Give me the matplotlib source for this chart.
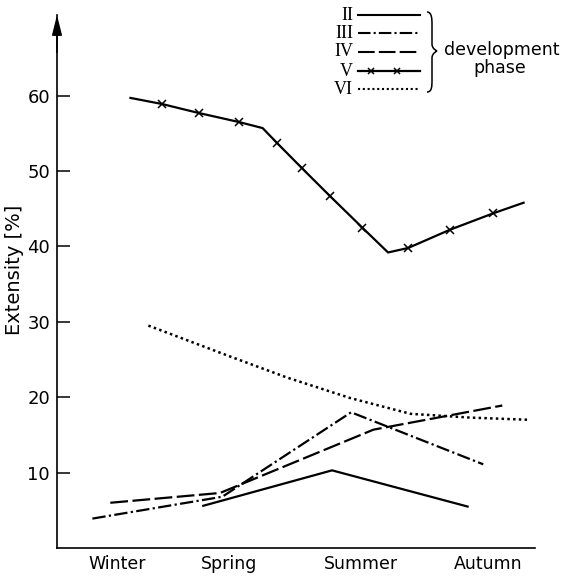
'''
Extensity of the development phases over the seasons.
'''
# imports
import matplotlib
matplotlib.use('Agg')
import matplotlib.pyplot as plt
from matplotlib.path import Path
from matplotlib.patches import PathPatch

# data (x: season position, Winter = 1, Spring = 2, ...)
seasons = ['Winter', 'Spring', 'Summer', 'Autumn']
season_pos = [1.0, 2.0, 3.18, 4.31]

x_II = [1.77, 2.92, 4.13]
y_II = [5.6, 10.3, 5.5]

x_III = [0.78, 1.94, 3.09, 4.27]
y_III = [3.9, 6.8, 18.0, 11.1]

x_IV = [0.94, 1.92, 3.29, 4.44]
y_IV = [6.0, 7.3, 15.7, 18.9]

x_V = [1.12, 1.40, 1.73, 2.09, 2.30, 2.43, 2.65, 2.90, 3.19, 3.42, 3.60, 3.97, 4.36, 4.63]
y_V = [59.7, 58.9, 57.7, 56.5, 55.7, 53.7, 50.4, 46.7, 42.5, 39.2, 39.8, 42.2, 44.4, 45.8]
marks_V = [1, 2, 3, 5, 6, 7, 8, 10, 11, 12]

x_VI = [1.28, 2.01, 2.52, 3.08, 3.62, 4.15, 4.69]
y_VI = [29.5, 25.4, 22.6, 19.9, 17.8, 17.3, 17.0]

W, H = 564, 579
styles = {
    'II': dict(ls='-'),
    'III': dict(ls=(0, (6, 1.5, 1, 1.5))),
    'IV': dict(ls=(0, (8, 2))),
    'V': dict(ls='-', marker='x'),
    'VI': dict(ls=(0, (1, 1.3))),
}


def fx(px):
    return px / W


def fy(py):
    return 1 - py / H


fig = plt.figure(figsize=(W / 100, H / 100), dpi=100)
ax = fig.add_axes([fx(57), fy(548), fx(535) - fx(57), fy(15) - fy(548)])

lw = 1.6
ax.plot(x_II, y_II, color='k', lw=lw, **styles['II'])
ax.plot(x_III, y_III, color='k', lw=lw, **styles['III'])
ax.plot(x_IV, y_IV, color='k', lw=lw, **styles['IV'])
ax.plot(x_V, y_V, color='k', lw=lw, markevery=marks_V, markersize=6,
        mew=1.1, **styles['V'])
ax.plot(x_VI, y_VI, color='k', lw=1.8, **styles['VI'])

ax.set_xlim(0.464, 4.732)
ax.set_ylim(0, 70.7)
ax.set_xticks(season_pos)
ax.set_xticklabels(seasons)
ax.set_yticks([10, 20, 30, 40, 50, 60])
ax.tick_params(axis='x', length=0, pad=5, labelsize=12.5)
ax.tick_params(axis='y', direction='in', length=9, width=1.1, pad=5,
               labelsize=13)
for side in ['top', 'right']:
    ax.spines[side].set_visible(False)
for side in ['left', 'bottom']:
    ax.spines[side].set_linewidth(1.2)

ax.annotate('', xy=(0, 1), xytext=(0, 0.93), xycoords='axes fraction',
            arrowprops=dict(arrowstyle='-|>,head_length=1.2,head_width=0.3',
                            lw=1.2, color='k', shrinkA=0, shrinkB=0))

fig.text(fx(15), fy(270), 'Extensity [%]', rotation=90, fontsize=14,
         ha='center', va='center')

# legend drawn by hand
rows = [('II', 15), ('III', 33), ('IV', 52), ('V', 71), ('VI', 89)]
for name, py in rows:
    fig.text(fx(353), fy(py), name, family='Liberation Serif', fontsize=13,
             ha='right', va='center')
    st = dict(styles[name])
    if name == 'V':
        ax.plot([fx(358), fx(420)], [fy(py)] * 2, color='k', lw=lw,
                ls='-', transform=fig.transFigure, clip_on=False)
        ax.plot([fx(371), fx(397)], [fy(py)] * 2, color='k', ls='none',
                marker='x', markersize=5, mew=1.1,
                transform=fig.transFigure, clip_on=False)
    else:
        ax.plot([fx(358), fx(420)], [fy(py)] * 2, color='k', lw=1.5,
                transform=fig.transFigure, clip_on=False, **st)

# brace
bx0, bx1, bxt = fx(427), fx(432), fx(437)
by0, bym, by1 = fy(12), fy(51), fy(92)
verts = [(bx0, by0), (bx1, by0), (bx1, fy(20)), (bx1, fy(24)),
         (bx1, fy(44)),
         (bx1, fy(49)), (bxt, bym), (bxt, bym),
         (bxt, bym), (bx1, fy(53)), (bx1, fy(58)),
         (bx1, fy(80)),
         (bx1, fy(86)), (bx1, by1), (bx0, by1)]
codes = [Path.MOVETO, Path.CURVE4, Path.CURVE4, Path.CURVE4,
         Path.LINETO,
         Path.CURVE4, Path.CURVE4, Path.CURVE4,
         Path.CURVE4, Path.CURVE4, Path.CURVE4,
         Path.LINETO,
         Path.CURVE4, Path.CURVE4, Path.CURVE4]
fig.add_artist(PathPatch(Path(verts, codes), fill=False, lw=1.1,
                         transform=fig.transFigure))

fig.text(fx(502), fy(50), 'development', fontsize=12.5, ha='center',
         va='center')
fig.text(fx(500), fy(68), 'phase', fontsize=12.5, ha='center', va='center')

fig.savefig('out.png', dpi=100)
